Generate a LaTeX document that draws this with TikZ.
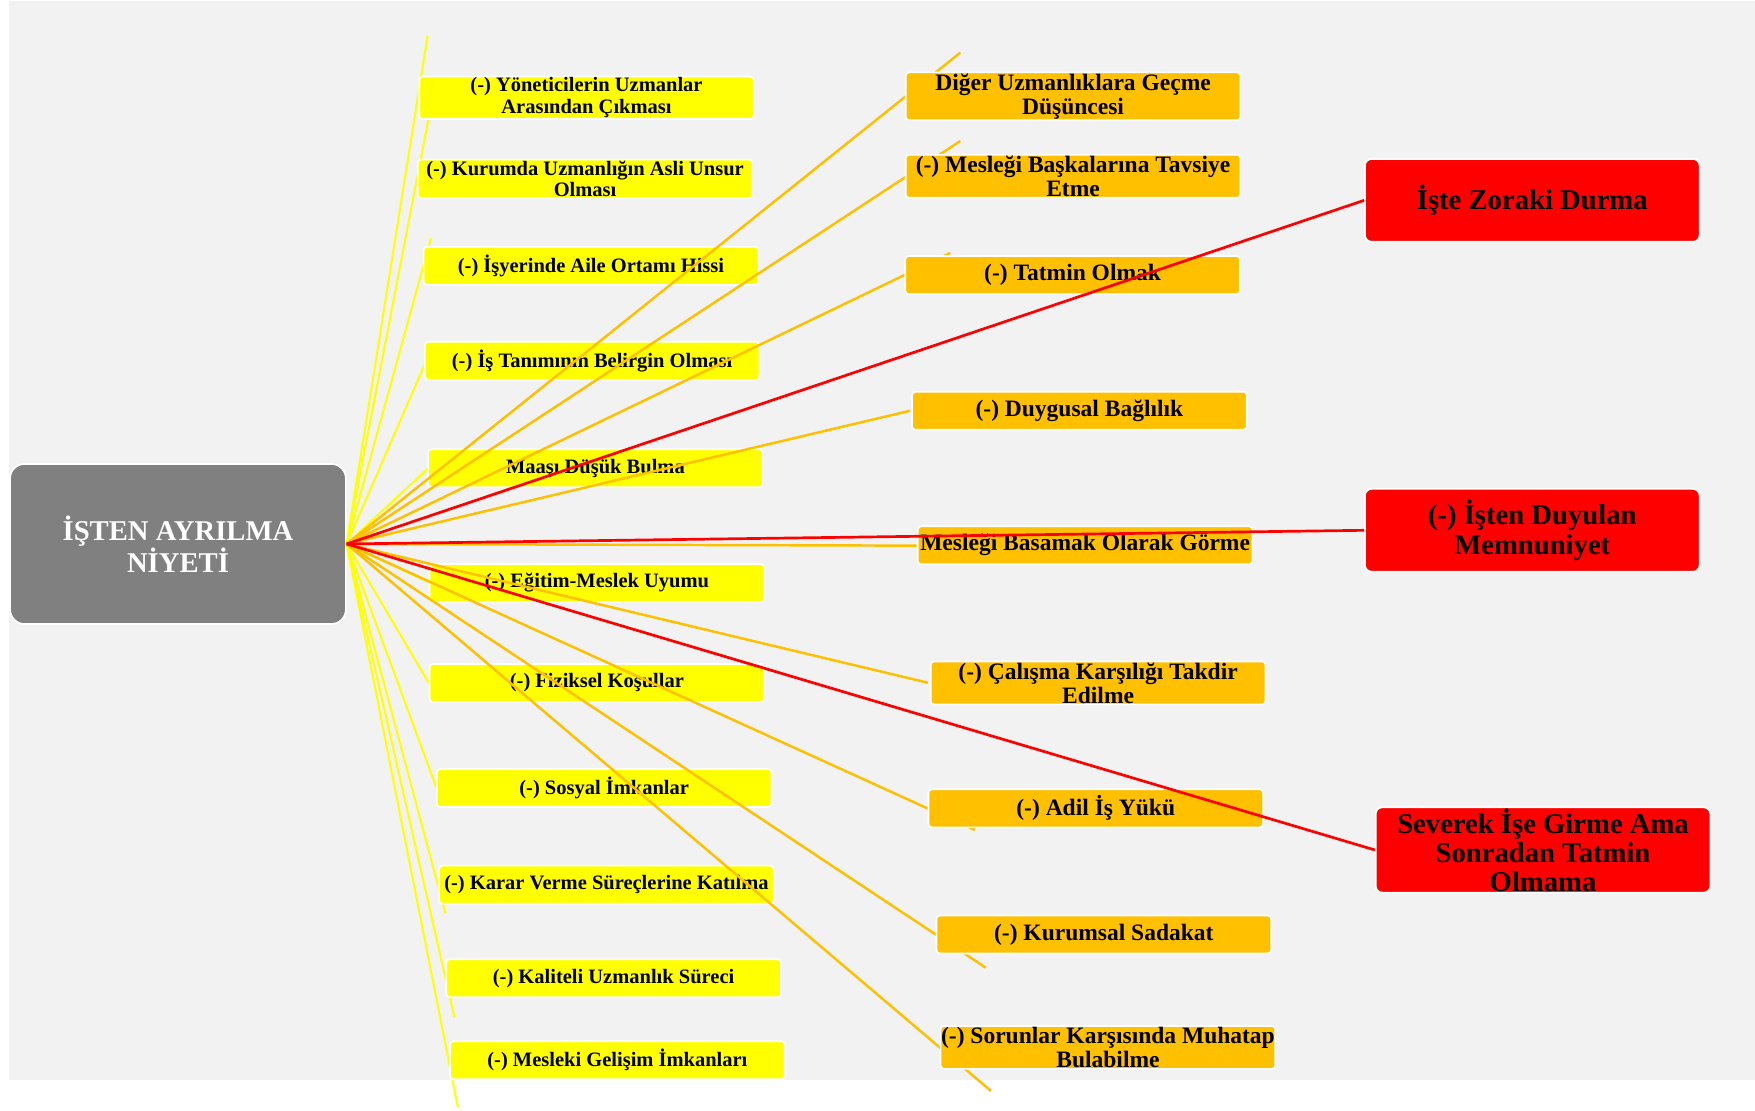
\documentclass[tikz,border=0pt]{standalone}
\usepackage{fontspec}
\setmainfont{Liberation Serif}
\usepackage{tikz}

\definecolor{bggray}{HTML}{F2F2F2}
\definecolor{hubgray}{HTML}{808080}
\definecolor{yel}{HTML}{FFFF00}
\definecolor{ora}{HTML}{FFC000}
\definecolor{rd}{HTML}{FF0000}

\tikzset{
  box/.style={draw=white, line width=1.5, inner xsep=0, inner ysep=1,
    minimum width=299, align=center},
  ybox/.style={box, fill=yel, rounded corners=3, minimum height=34,
    font=\fontsize{18.3}{19.5}\selectfont\bfseries},
  obox/.style={box, fill=ora, rounded corners=3, minimum height=34,
    font=\fontsize{21}{21.5}\selectfont\bfseries},
  rbox/.style={box, fill=rd, rounded corners=6, minimum height=74,
    font=\fontsize{25.6}{26}\selectfont\bfseries},
  hubbox/.style={box, fill=hubgray, rounded corners=13, minimum width=300,
    minimum height=143, text=white, font=\fontsize{25.6}{26}\selectfont\bfseries},
  yline/.style={yel, line width=1.8},
  oline/.style={ora, line width=2.2},
  rline/.style={rd, line width=2.4},
}

\begin{document}
\begin{tikzpicture}[x=1pt,y=-1pt]
  \useasboundingbox (0,0) rectangle (1568,992);
  \fill[bggray] (8,1) rectangle (1568,965);

  \node[hubbox] (hub) at (159,486) {İŞTEN AYRILMA\\NİYETİ};

  % free ends of the connectors
  \coordinate (yonE) at (382,32);
  \coordinate (asliE) at (384,100);
  \coordinate (aileE) at (385,213);
  \coordinate (tanimE) at (381,322);
  \coordinate (maasE) at (383,418);
  \coordinate (egitimE) at (385,521);
  \coordinate (fizikE) at (383,610);
  \coordinate (sosyalE) at (390,704);
  \coordinate (kararE) at (398,816);
  \coordinate (kaliteE) at (406,909);
  \coordinate (gelisimE) at (409,989);

  \coordinate (gecmeE) at (858,47);
  \coordinate (tavsiyeE) at (858,126);
  \coordinate (tatminE) at (849,226);
  \coordinate (duyguE) at (813,367);
  \coordinate (basamakE) at (819,487.5);
  \coordinate (takdirE) at (829,610);
  \coordinate (yukE) at (871,741.5);
  \coordinate (sadakatE) at (880.6,864.5);
  \coordinate (muhatapE) at (885.4,974.7);

  \draw[yline] (hub.east) -- (yonE);
  \draw[yline] (hub.east) -- (asliE);
  \draw[yline] (hub.east) -- (aileE);
  \draw[yline] (hub.east) -- (tanimE);
  \draw[yline] (hub.east) -- (maasE);
  \draw[yline] (hub.east) -- (egitimE);
  \draw[yline] (hub.east) -- (fizikE);
  \draw[yline] (hub.east) -- (sosyalE);
  \draw[yline] (hub.east) -- (kararE);
  \draw[yline] (hub.east) -- (kaliteE);
  \draw[yline] (hub.east) -- (gelisimE);

  \node[ybox] (yon) at (524,87.4) {(-) Yöneticilerin Uzmanlar\\Arasından Çıkması};
  \node[ybox] (asli) at (522.7,159.8) {(-) Kurumda Uzmanlığın Asli Unsur\\Olması};
  \node[ybox] (aile) at (528,237.5) {(-) İşyerinde Aile Ortamı Hissi};
  \node[ybox] (tanim) at (529,322.4) {(-) İş Tanımının Belirgin Olması};
  \node[ybox] (maas) at (532,418.4) {Maaşı Düşük Bulma};
  \node[ybox] (egitim) at (533.3,520.9) {(-) Eğitim-Meslek Uyumu};
  \node[ybox] (fizik) at (533.3,610.2) {(-) Fiziksel Koşullar};
  \node[ybox] (sosyal) at (539.8,704) {(-) Sosyal İmkanlar};
  \node[ybox] (karar) at (541.8,790.4) {(-) Karar Verme Süreçlerine Katılma};
  \node[ybox] (kalite) at (548.2,874) {(-) Kaliteli Uzmanlık Süreci};
  \node[ybox] (gelisim) at (551.6,947.3) {(-) Mesleki Gelişim İmkanları};

  \draw[oline] (hub.east) -- (gecmeE);
  \draw[oline] (hub.east) -- (tavsiyeE);
  \draw[oline] (hub.east) -- (tatminE);
  \draw[oline] (hub.east) -- (duyguE);
  \draw[oline] (hub.east) -- (basamakE);
  \draw[oline] (hub.east) -- (takdirE);
  \draw[oline] (hub.east) -- (yukE);
  \draw[oline] (hub.east) -- (sadakatE);
  \draw[oline] (hub.east) -- (muhatapE);

  \node[obox] (gecme) at (958.7,86) {Diğer Uzmanlıklara Geçme\\Düşüncesi};
  \node[obox] (tavsiye) at (958.7,157.5) {(-) Mesleği Başkalarına Tavsiye\\Etme};
  \node[obox] (tatmin) at (958.3,245.8) {(-) Tatmin Olmak};
  \node[obox] (duygu) at (964.4,367) {(-) Duygusal Bağlılık};
  \node[obox] (basamak) at (969.5,487.2) {Mesleği Basamak Olarak Görme};
  \node[obox] (takdir) at (981.1,610.2) {(-) Çalışma Karşılığı Takdir\\Edilme};
  \node[obox] (yuk) at (979,722.2) {(-) Adil İş Yükü};
  \node[obox] (sadakat) at (986.2,834.9) {(-) Kurumsal Sadakat};
  \node[obox] (muhatap) at (989.9,935.8) {(-) Sorunlar Karşısında Muhatap\\Bulabilme};

  \node[rbox] (zoraki) at (1369,179) {İşte Zoraki Durma};
  \node[rbox] (memnun) at (1369,473.8) {(-) İşten Duyulan\\Memnuniyet};
  \node[rbox, minimum height=73] (severek) at (1378.6,759.4) {Severek İşe Girme Ama\\Sonradan Tatmin\\Olmama};

  \draw[rline] (hub.east) -- (zoraki.west);
  \draw[rline] (hub.east) -- (memnun.west);
  \draw[rline] (hub.east) -- (severek.west);
\end{tikzpicture}
\end{document}
